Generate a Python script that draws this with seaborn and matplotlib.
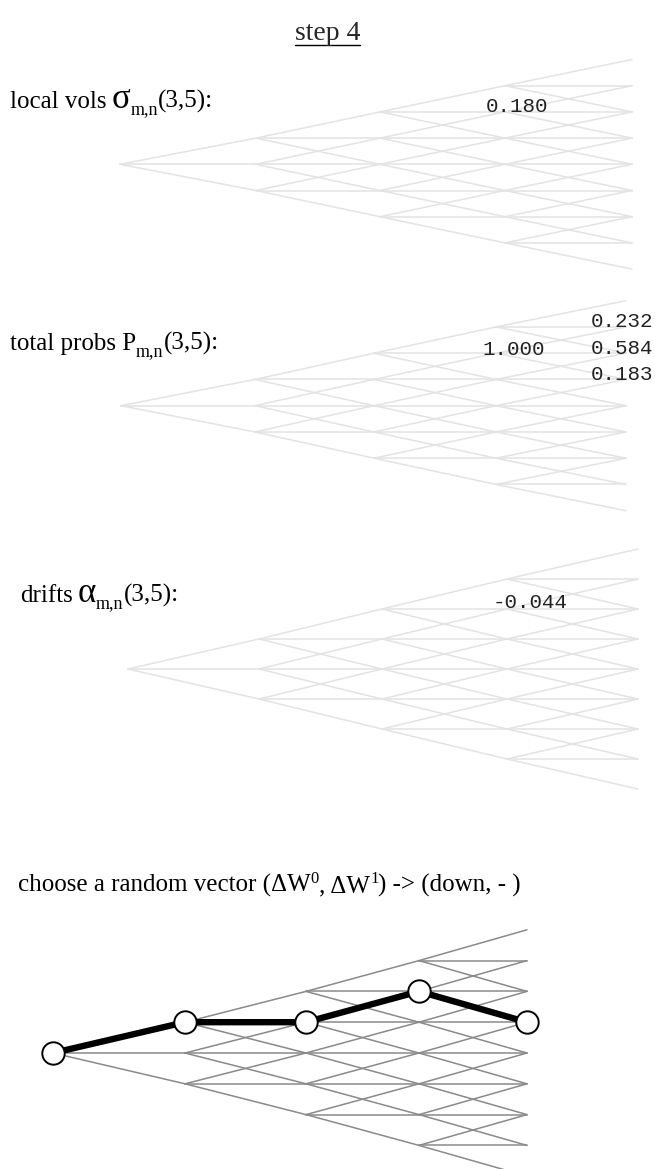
import numpy as np
import pandas as pd
import seaborn as sns
import matplotlib.pyplot as plt

# numbers printed on the lattices
vol_value = [0.180]
prob_parent = [1.000]
prob_children = [0.232, 0.584, 0.183]
drift_value = [-0.044]

# node (time step, level) that the numbers belong to, and its children
node_t, node_j = 3, 2
child_levels = [3, 2, 1]

# chosen path through the last lattice (level at each time step)
path_levels = [0, 1, 1, 2, 1]

title = "step 4"

sns.set_theme(style="white")
plt.rcParams["font.family"] = ["Liberation Serif", "DejaVu Serif"]

fig = plt.figure(figsize=(6.55, 11.69), dpi=100)
ax = fig.add_axes([0, 0, 1, 1])
renderer = fig.canvas.get_renderer()

# lattice geometry, in pixels
trees = {
    "vol":   dict(xs=[120, 256, 380, 505, 632], y0=164.3, dy=26.2, color="#e3e3e3"),
    "prob":  dict(xs=[121, 255, 374, 496, 626], y0=405.7, dy=26.25, color="#e3e3e3"),
    "drift": dict(xs=[128, 259, 382, 507, 638], y0=669.0, dy=30.0, color="#e3e3e3"),
    "path":  dict(xs=[53, 185, 306, 419, 527], y0=1053.0, dy=30.8, color="#8a8a8a"),
}


def lattice_edges(xs, y0, dy):
    rows = []
    k = 0
    for t in range(len(xs) - 1):
        for j in range(-t, t + 1):
            for dj in (1, 0, -1):
                rows.append((k, xs[t], y0 - j * dy))
                rows.append((k, xs[t + 1], y0 - (j + dj) * dy))
                k += 1
    return pd.DataFrame(rows, columns=["edge", "x", "y"])


for name, g in trees.items():
    df = lattice_edges(g["xs"], g["y0"], g["dy"])
    sns.lineplot(data=df, x="x", y="y", units="edge", estimator=None, sort=False,
                 color=g["color"], lw=1.1, ax=ax)


def node_xy(g, t, j):
    return g["xs"][t], g["y0"] - j * g["dy"]


# path with the circles
g = trees["path"]
pts = pd.DataFrame([node_xy(g, t, j) for t, j in enumerate(path_levels)], columns=["x", "y"])
sns.lineplot(data=pts, x="x", y="y", sort=False, color="black", lw=4.6, ax=ax, zorder=4)
sns.scatterplot(data=pts, x="x", y="y", s=260, color="white", edgecolor="black",
                linewidth=1.4, ax=ax, zorder=5)

# fix the pixel frame before measuring any text
ax.set_xlim(0, 655)
ax.set_ylim(1169, 0)
ax.axis("off")

# value labels
mono = dict(family="Liberation Mono", fontsize=15, color="#222222", va="center", ha="left")
x, y = node_xy(trees["vol"], node_t, node_j)
ax.text(x - 19, y - 5, f"{vol_value[0]:.3f}", **mono)
x, y = node_xy(trees["prob"], node_t, node_j)
ax.text(x - 14, y - 4, f"{prob_parent[0]:.3f}", **mono)
for lev, v in zip(child_levels, prob_children):
    x, y = node_xy(trees["prob"], node_t + 1, lev)
    ax.text(x - 35, y - 5, f"{v:.3f}", **mono)
x, y = node_xy(trees["drift"], node_t, node_j)
ax.text(x - 14, y - 7, f"{drift_value[0]:.3f}", **mono)


def rich_text(x, y, parts):
    # parts: (text, fontsize, baseline shift, gap after)
    for s, size, shift, gap in parts:
        t = ax.text(x, y + shift, s, fontsize=size, ha="left", va="baseline", color="black")
        x += t.get_window_extent(renderer=renderer).width + gap


rich_text(10, 108, [("local vols", 18, 0, 5), ("\u03c3", 25, 0, 0),
                    ("m,n", 13, 6, 0), ("(3,5):", 18, 0, 0)])
rich_text(10, 350, [("total probs P", 18, 0, 0), ("m,n", 13, 6, 0), ("(3,5):", 18, 0, 0)])
rich_text(20, 602, [("drifts", 18, 0, 5), ("\u03b1", 25, 0, 0),
                    ("m,n", 13, 6, 0), ("(3,5):", 18, 0, 0)])
rich_text(18, 892, [("choose a random vector (\u0394W", 18, 0, 0), ("0", 12, -9, 0),
                    (", \u0394W", 18, 0, 0), ("1", 12, -9, 0),
                    (") -> (down, - )", 18, 0, 0)])

# underlined title
tt = ax.text(327.5, 40, title, fontsize=20, ha="center", va="baseline")
bb = tt.get_window_extent(renderer=renderer)
ax.plot([bb.x0, bb.x1], [45, 45], color="black", lw=1.0)

fig.savefig("out.png", dpi=100)
